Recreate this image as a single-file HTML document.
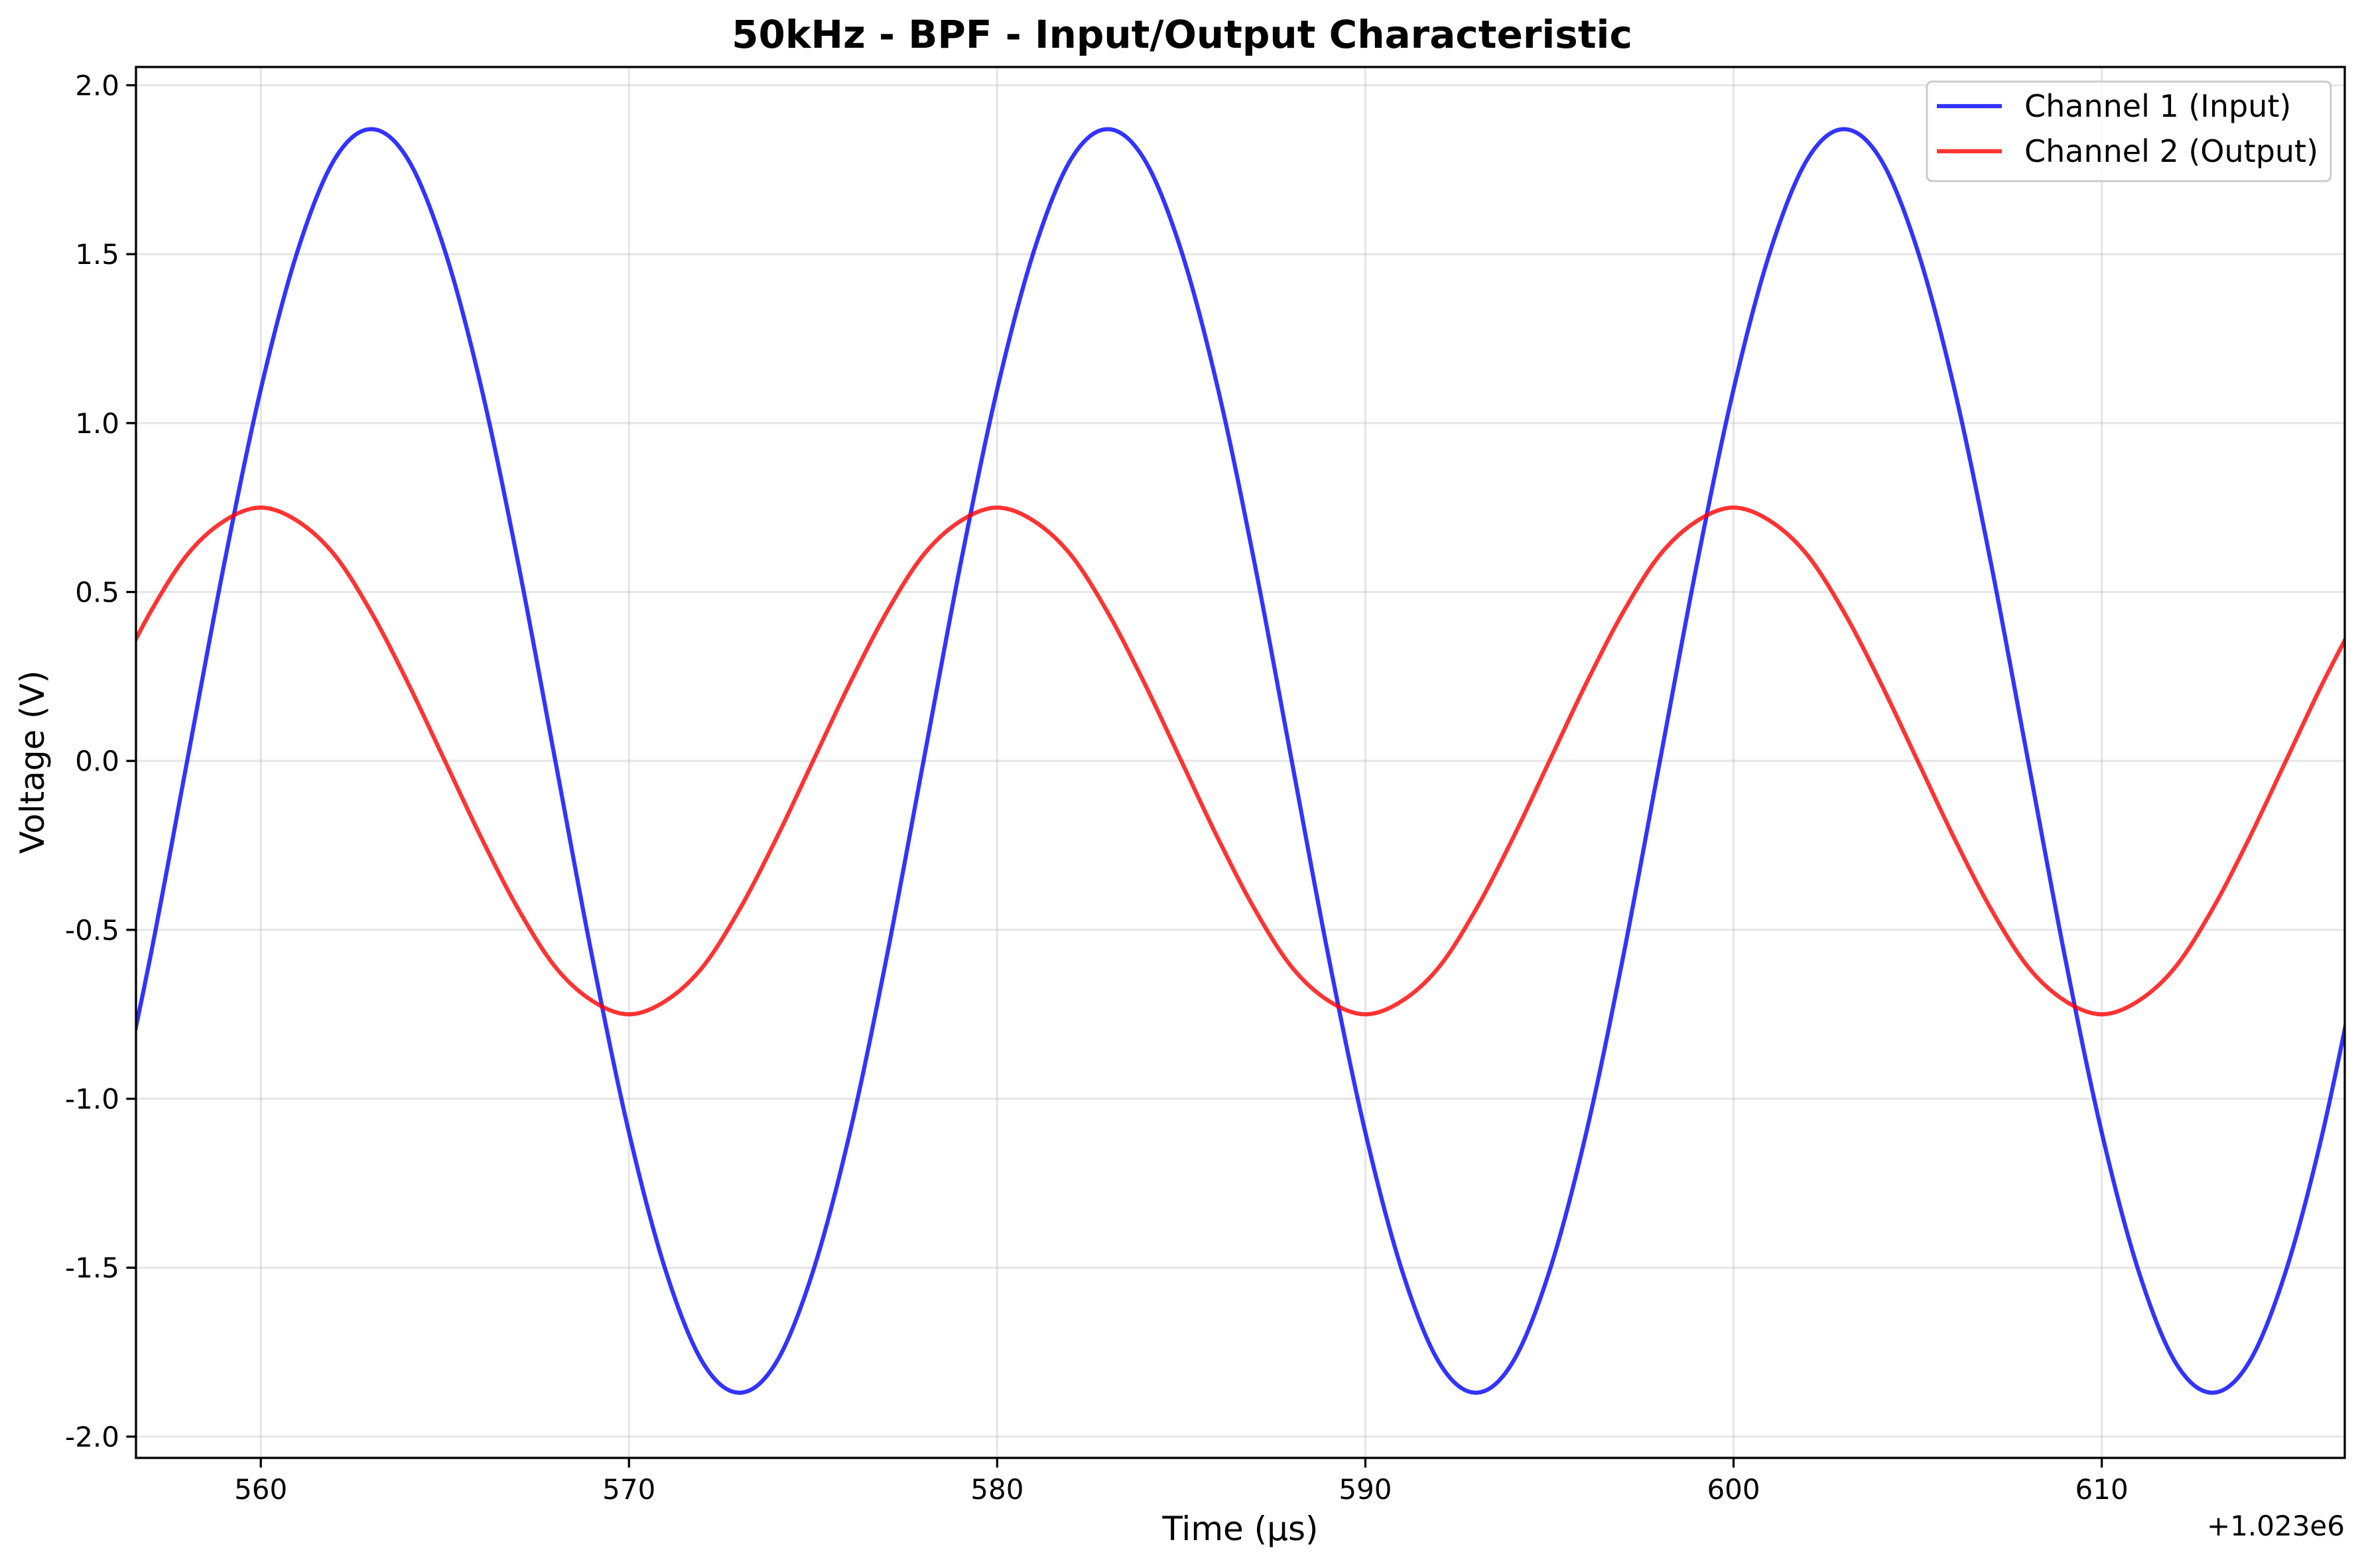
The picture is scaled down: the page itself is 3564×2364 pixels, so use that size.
<!DOCTYPE html>
<html><head><meta charset="utf-8"><style>
html,body{margin:0;padding:0;background:#fff}
svg{display:block;font-family:"DejaVu Sans","Liberation Sans",sans-serif}
</style></head><body>
<svg id="chart" width="3564" height="2364" viewBox="0 0 3564 2364" xmlns="http://www.w3.org/2000/svg">
<rect width="3564" height="2364" fill="#fff"/>
<g id="grid"></g>
<g id="series" clip-path="url(#clip)"></g>
<defs><clipPath id="clip"><rect x="205" y="101" width="3330" height="2097"/></clipPath></defs>
<rect x="205" y="101" width="3330" height="2097" fill="none" stroke="#000" stroke-width="3.3"/>
<g id="ticks"></g>
<text x="1782" y="72" text-anchor="middle" font-size="58" font-weight="bold">50kHz - BPF - Input/Output Characteristic</text>
<text x="1870" y="2322" text-anchor="middle" font-size="50">Time (µs)</text>
<text transform="translate(66,1149) rotate(-90)" text-anchor="middle" font-size="50">Voltage (V)</text>
<text x="3535" y="2315" text-anchor="end" font-size="42">+1.023e6</text>
<g>
<rect x="2905" y="123" width="609" height="150" rx="8" fill="#fff" fill-opacity="0.8" stroke="#ccc" stroke-width="3"/>
<line x1="2920" y1="160" x2="3018" y2="160" stroke="#0000ff" stroke-opacity="0.8" stroke-width="6.25"/>
<text x="3052" y="176" font-size="46">Channel 1 (Input)</text>
<line x1="2920" y1="228" x2="3018" y2="228" stroke="#ff0000" stroke-opacity="0.8" stroke-width="6.25"/>
<text x="3052" y="244" font-size="46">Channel 2 (Output)</text>
</g>
</svg>
<script>
const times=[556,557,558,559,560,561,562,563,564,565,566,567,568,569,570,571,572,573,574,575,576,577,578,579,580,581,582,583,584,585,586,587,588,589,590,591,592,593,594,595,596,597,598,599,600,601,602,603,604,605,606,607,608,609,610,611,612,613,614,615,616,617];
const inputV=[-1.10,-0.58,0,0.58,1.10,1.51,1.78,1.87,1.78,1.51,1.10,0.58,0,-0.58,-1.10,-1.51,-1.78,-1.87,-1.78,-1.51,
-1.10,-0.58,0,0.58,1.10,1.51,1.78,1.87,1.78,1.51,1.10,0.58,0,-0.58,-1.10,-1.51,-1.78,-1.87,-1.78,-1.51,
-1.10,-0.58,0,0.58,1.10,1.51,1.78,1.87,1.78,1.51,1.10,0.58,0,-0.58,-1.10,-1.51,-1.78,-1.87,-1.78,-1.51,-1.10,-0.58];
const outputV=[0.23,0.44,0.61,0.71,0.75,0.71,0.61,0.44,0.23,0,-0.23,-0.44,-0.61,-0.71,-0.75,-0.71,-0.61,-0.44,-0.23,0,
0.23,0.44,0.61,0.71,0.75,0.71,0.61,0.44,0.23,0,-0.23,-0.44,-0.61,-0.71,-0.75,-0.71,-0.61,-0.44,-0.23,0,
0.23,0.44,0.61,0.71,0.75,0.71,0.61,0.44,0.23,0,-0.23,-0.44,-0.61,-0.71,-0.75,-0.71,-0.61,-0.44,-0.23,0,0.23,0.44];
const xTicks=[560,570,580,590,600,610];
const yTicks=[2.0,1.5,1.0,0.5,0.0,-0.5,-1.0,-1.5,-2.0];
const yTickLabels=["2.0","1.5","1.0","0.5","0.0","-0.5","-1.0","-1.5","-2.0"];

const NS="http://www.w3.org/2000/svg";
const L=205,R=3535,T=101,B=2198;
const X0=556.61,X1=616.6,Y0=-2.063,Y1=2.054;
function xs(v){return L+(v-X0)/(X1-X0)*(R-L);}
function ys(v){return B-(v-Y0)/(Y1-Y0)*(B-T);}
function mk(tag,attrs,parent){const e=document.createElementNS(NS,tag);for(const k in attrs)e.setAttribute(k,attrs[k]);parent.appendChild(e);return e;}
const grid=document.getElementById('grid'),ticks=document.getElementById('ticks'),series=document.getElementById('series');
xTicks.forEach((t,i)=>{
  const x=xs(t);
  const g=mk('line',{x1:x,x2:x,y1:T,y2:B,stroke:'#b0b0b0','stroke-opacity':0.3,'stroke-width':3.3},grid);
  
  
  const tk=mk('line',{x1:x,x2:x,y1:B,y2:B+14.6,stroke:'#000','stroke-width':3.3},ticks);
  
  
  const tx=mk('text',{x:x,y:B+62,'text-anchor':'middle','font-size':42},ticks);
  tx.textContent=String(t);
  
  
});
yTicks.forEach((v,i)=>{
  const y=ys(v);
  const g=mk('line',{x1:L,x2:R,y1:y,y2:y,stroke:'#b0b0b0','stroke-opacity':0.3,'stroke-width':3.3},grid);
  
  
  const tk=mk('line',{x1:L-14.6,x2:L,y1:y,y2:y,stroke:'#000','stroke-width':3.3},ticks);
  
  
  const tx=mk('text',{x:L-25,y:y+15,'text-anchor':'end','font-size':42},ticks);
  tx.textContent=yTickLabels[i];
  
  
});
function smoothPath(xsArr,ysArr){
  const p=xsArr.map((t,i)=>[xs(t),ys(ysArr[i])]);
  let d='M'+p[0][0]+','+p[0][1];
  for(let i=0;i<p.length-1;i++){
    const p0=p[Math.max(0,i-1)],p1=p[i],p2=p[i+1],p3=p[Math.min(p.length-1,i+2)];
    const c1=[p1[0]+(p2[0]-p0[0])/6,p1[1]+(p2[1]-p0[1])/6];
    const c2=[p2[0]-(p3[0]-p1[0])/6,p2[1]-(p3[1]-p1[1])/6];
    d+=' C'+c1[0]+','+c1[1]+' '+c2[0]+','+c2[1]+' '+p2[0]+','+p2[1];
  }
  return d;
}
const l1=mk('path',{d:smoothPath(times,inputV),fill:'none',stroke:'#0000ff','stroke-opacity':0.8,'stroke-width':6.25,'stroke-linejoin':'round'},series);


const l2=mk('path',{d:smoothPath(times,outputV),fill:'none',stroke:'#ff0000','stroke-opacity':0.8,'stroke-width':6.25,'stroke-linejoin':'round'},series);


</script>
</body></html>
